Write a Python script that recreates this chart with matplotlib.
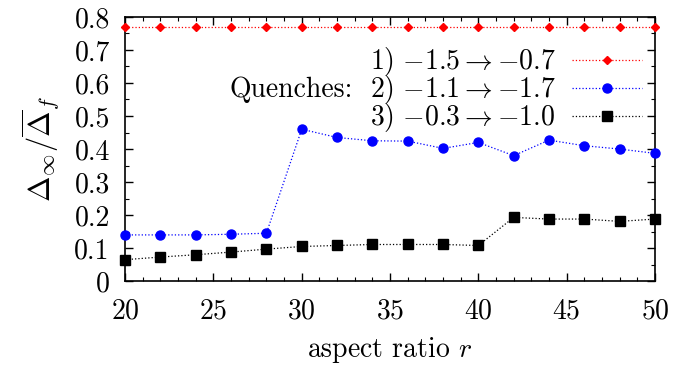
import matplotlib.pyplot as plt

plt.rcParams["font.family"] = "serif"
plt.rcParams["font.serif"] = ["cmr10"]
plt.rcParams["mathtext.fontset"] = "cm"
plt.rcParams["axes.formatter.use_mathtext"] = True

# aspect ratios and the three quench series
r = [20, 22, 24, 26, 28, 30, 32, 34, 36, 38, 40, 42, 44, 46, 48, 50]
q1 = [0.77, 0.77, 0.77, 0.77, 0.77, 0.77, 0.77, 0.77,
      0.77, 0.77, 0.77, 0.77, 0.77, 0.77, 0.77, 0.77]
q2 = [0.140, 0.140, 0.140, 0.142, 0.145, 0.460, 0.435, 0.425,
      0.424, 0.402, 0.420, 0.380, 0.427, 0.410, 0.400, 0.387]
q3 = [0.065, 0.073, 0.080, 0.088, 0.097, 0.105, 0.108, 0.111,
      0.111, 0.111, 0.108, 0.193, 0.188, 0.188, 0.181, 0.188]
labels = [r"$1)\ {-1.5} \rightarrow {-0.7}$",
          r"$2)\ {-1.1} \rightarrow {-1.7}$",
          r"$3)\ {-0.3} \rightarrow {-1.0}$"]

fig = plt.figure(figsize=(6.99, 3.68), dpi=100)
ax = fig.add_axes([0.179, 0.236, 0.758, 0.718])

ax.plot(r, q1, color="red", linestyle=":", linewidth=0.9, marker="D",
        markersize=4.5, label=labels[0], clip_on=False, zorder=3)
ax.plot(r, q2, color="blue", linestyle=":", linewidth=0.9, marker="o",
        markersize=6.5, label=labels[1], clip_on=False, zorder=3)
ax.plot(r, q3, color="black", linestyle=":", linewidth=0.9, marker="s",
        markersize=6.5, label=labels[2], clip_on=False, zorder=3)

ax.set_xlim(20, 50)
ax.set_ylim(0, 0.8)
ax.set_xticks([20, 25, 30, 35, 40, 45, 50])
ax.set_yticks([0, 0.1, 0.2, 0.3, 0.4, 0.5, 0.6, 0.7, 0.8])
ax.set_yticklabels(["0", "0.1", "0.2", "0.3", "0.4", "0.5", "0.6", "0.7", "0.8"])
ax.set_xticks(range(20, 51), minor=True)
ax.set_yticks([i * 0.05 for i in range(17)], minor=True)
ax.tick_params(which="both", direction="in", top=True, right=True,
               labelsize=20)
ax.tick_params(axis="x", pad=12)
ax.tick_params(axis="y", pad=11)
ax.tick_params(which="major", length=6, width=1)
ax.tick_params(which="minor", length=3, width=0.8)
for s in ax.spines.values():
    s.set_linewidth(1.2)

ax.set_xlabel(r"aspect ratio $r$", fontsize=20, labelpad=8)
ax.set_ylabel(r"$\Delta_\infty/\overline{\Delta}_f$", fontsize=22, labelpad=9)

leg = ax.legend(loc="upper right", bbox_to_anchor=(1.013, 0.966),
                markerfirst=False, frameon=False, fontsize=20,
                handlelength=2.55, handletextpad=0.57, labelspacing=-0.18,
                borderpad=0.2)
ax.text(0.43, 0.723, "Quenches:", transform=ax.transAxes, fontsize=20,
        ha="right", va="center")

fig.savefig("out.png", dpi=100)
